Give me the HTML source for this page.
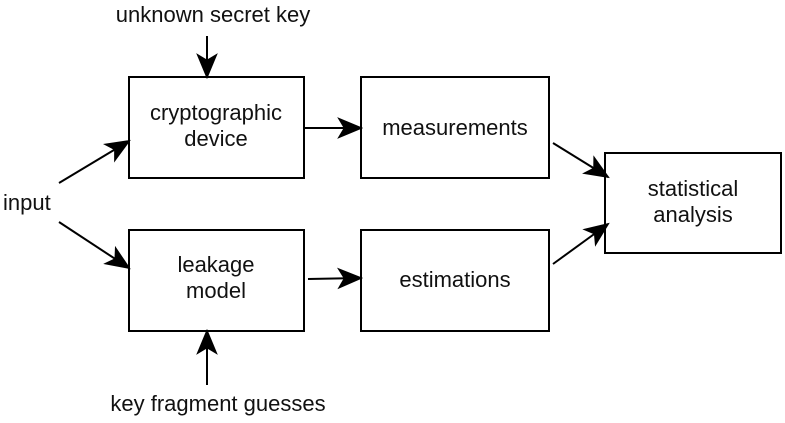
<!DOCTYPE html>
<html><head><style>
body{margin:0;background:#fff;}
svg text{font-family:"Liberation Sans",sans-serif;font-size:22px;fill:#111;}
</style></head><body>
<svg width="785" height="418" xmlns="http://www.w3.org/2000/svg">
<defs>
<marker id="b" viewBox="0 0 24 20" markerWidth="26" markerHeight="22" refX="22" refY="10" orient="auto" markerUnits="userSpaceOnUse"><path d="M0,0 L24,10 L0,20 L6,10 z" fill="#000"/></marker></defs>
<g fill="none" stroke="#000" stroke-width="2">
<rect x="129" y="77" width="175" height="101"/>
<rect x="361" y="77" width="188" height="101"/>
<rect x="129" y="230" width="175" height="101"/>
<rect x="361" y="230" width="188" height="101"/>
<rect x="605" y="153" width="176" height="100"/>
<line x1="207" y1="36" x2="207" y2="77" marker-end="url(#b)"/>
<line x1="59" y1="183" x2="129" y2="141" marker-end="url(#b)"/>
<line x1="59" y1="222" x2="129" y2="268" marker-end="url(#b)"/>
<line x1="304" y1="128" x2="361" y2="128" marker-end="url(#b)"/>
<line x1="308" y1="279" x2="361" y2="278" marker-end="url(#b)"/>
<line x1="553" y1="143" x2="608" y2="177" marker-end="url(#b)"/>
<line x1="553" y1="264" x2="608" y2="224" marker-end="url(#b)"/>
<line x1="207" y1="385" x2="207" y2="331" marker-end="url(#b)"/>
</g>
<g text-anchor="middle">
<text x="213" y="22">unknown secret key</text>
<text x="216" y="120">cryptographic</text>
<text x="216" y="146">device</text>
<text x="455" y="135">measurements</text>
<text x="216" y="272">leakage</text>
<text x="216" y="298">model</text>
<text x="455" y="287">estimations</text>
<text x="693" y="196">statistical</text>
<text x="693" y="222">analysis</text>
<text x="218" y="411">key fragment guesses</text>
</g>
<text x="3" y="210">input</text>
</svg>
</body></html>
